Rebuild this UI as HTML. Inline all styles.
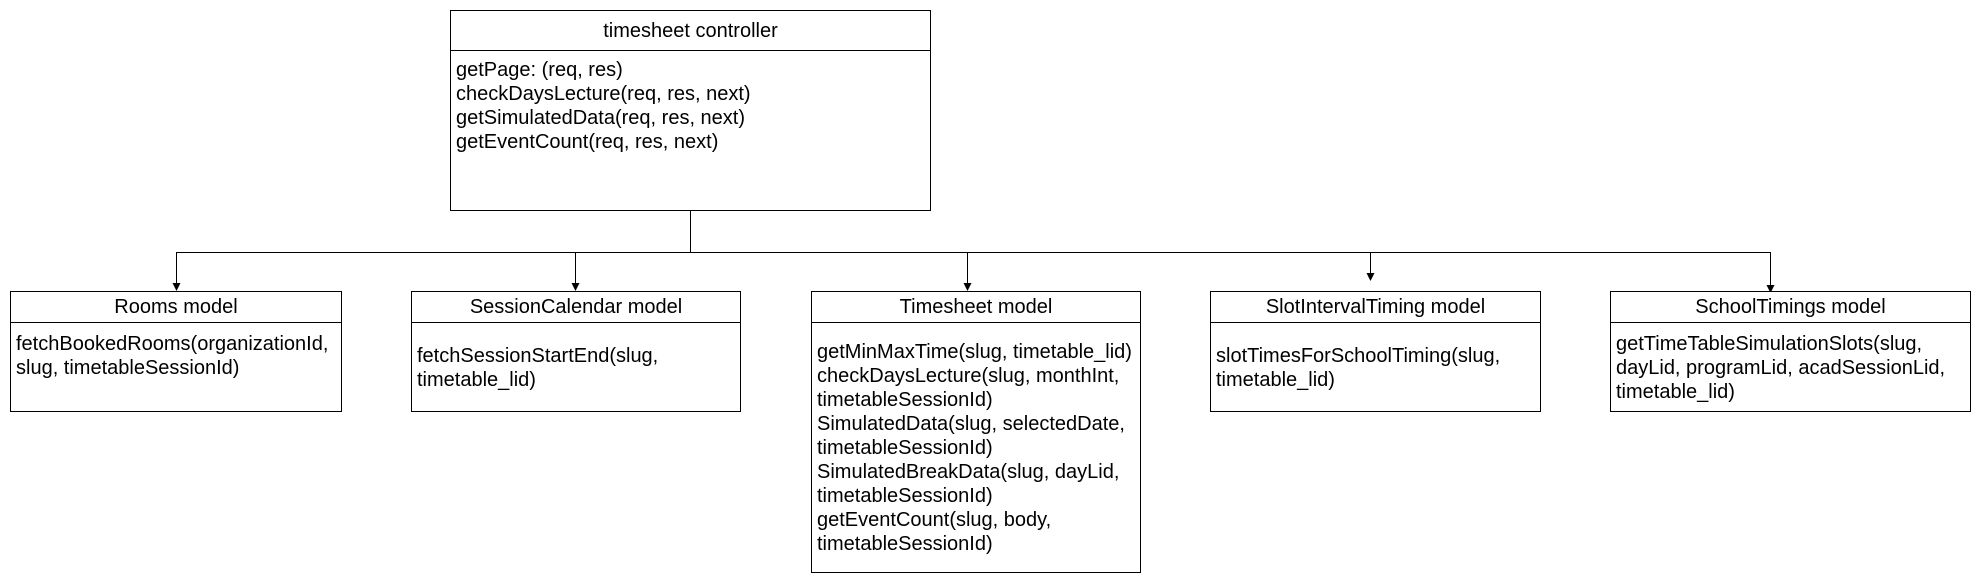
<!DOCTYPE html>
<html><head><meta charset="utf-8"><style>
body{margin:0;width:1982px;height:582px;background:#fff;position:relative;overflow:hidden;font-family:"Liberation Sans",Arial,sans-serif;color:#000}
.b{position:absolute;border:1px solid #000;box-sizing:border-box;background:#fff}
.h{position:absolute;left:0;right:0;top:0;border-bottom:1px solid #000;text-align:center;font-size:20px;box-sizing:border-box}
.t{position:absolute;left:5px;font-size:20px;line-height:24px;white-space:nowrap}
svg{position:absolute;left:0;top:0}
</style></head><body>
<svg width="1982" height="582">
<g stroke="#000" stroke-width="1" fill="none">
<line x1="690.5" y1="211" x2="690.5" y2="252.5"/>
<line x1="176" y1="252.5" x2="1770" y2="252.5"/>
<line x1="176.5" y1="252" x2="176.5" y2="284"/>
<line x1="575.5" y1="252" x2="575.5" y2="284"/>
<line x1="967.5" y1="252" x2="967.5" y2="284"/>
<line x1="1370.5" y1="252" x2="1370.5" y2="274"/>
<line x1="1770.5" y1="252" x2="1770.5" y2="286"/>
</g>
<g fill="#000">
<path d="M172.5 283 L176.5 291 L180.5 283 Z"/>
<path d="M571.5 283 L575.5 291 L579.5 283 Z"/>
<path d="M963.5 283 L967.5 291 L971.5 283 Z"/>
<path d="M1366.5 273 L1370.5 281 L1374.5 273 Z"/>
<path d="M1766.5 285 L1770.5 293 L1774.5 285 Z"/>
</g>
</svg>

<div class="b" style="left:450px;top:10px;width:481px;height:201px">
<div class="h" style="height:40px;line-height:40px">timesheet controller</div>
<div class="t" style="top:47px">getPage: (req, res)<br>checkDaysLecture(req, res, next)<br>getSimulatedData(req, res, next)<br>getEventCount(req, res, next)</div>
</div>

<div class="b" style="left:10px;top:291px;width:332px;height:121px">
<div class="h" style="height:31px;line-height:31px">Rooms model</div>
<div class="t" style="top:40px">fetchBookedRooms(organizationId,<br>slug, timetableSessionId)</div>
</div>

<div class="b" style="left:411px;top:291px;width:330px;height:121px">
<div class="h" style="height:31px;line-height:31px">SessionCalendar model</div>
<div class="t" style="top:52px">fetchSessionStartEnd(slug,<br>timetable_lid)</div>
</div>

<div class="b" style="left:811px;top:291px;width:330px;height:282px">
<div class="h" style="height:31px;line-height:31px">Timesheet model</div>
<div class="t" style="top:48px">getMinMaxTime(slug, timetable_lid)<br>checkDaysLecture(slug, monthInt,<br>timetableSessionId)<br>SimulatedData(slug, selectedDate,<br>timetableSessionId)<br>SimulatedBreakData(slug, dayLid,<br>timetableSessionId)<br>getEventCount(slug, body,<br>timetableSessionId)</div>
</div>

<div class="b" style="left:1210px;top:291px;width:331px;height:121px">
<div class="h" style="height:31px;line-height:31px">SlotIntervalTiming model</div>
<div class="t" style="top:52px">slotTimesForSchoolTiming(slug,<br>timetable_lid)</div>
</div>

<div class="b" style="left:1610px;top:291px;width:361px;height:121px">
<div class="h" style="height:31px;line-height:31px">SchoolTimings model</div>
<div class="t" style="top:40px">getTimeTableSimulationSlots(slug,<br>dayLid, programLid, acadSessionLid,<br>timetable_lid)</div>
</div>
</body></html>
